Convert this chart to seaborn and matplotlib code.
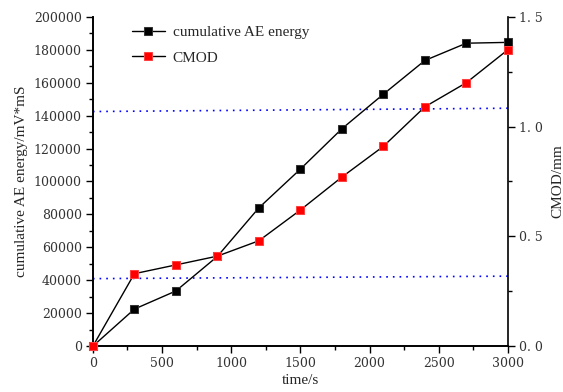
import matplotlib
matplotlib.use("Agg")
import matplotlib.pyplot as plt
import seaborn as sns
import pandas as pd
from matplotlib.ticker import MultipleLocator, FuncFormatter

# Test data: elapsed time, cumulative acoustic-emission energy and crack mouth opening displacement
time_s = [0, 300, 600, 900, 1200, 1500, 1800, 2100, 2400, 2700, 3000]
ae_energy = [0, 22500, 33500, 54500, 84000, 107500, 132000, 153000, 173500, 184000, 184500]
cmod_mm = [0, 0.33, 0.37, 0.41, 0.48, 0.62, 0.77, 0.91, 1.09, 1.20, 1.35]

# Dotted guide lines (start/end levels on the energy axis)
guide_x = [0, 3000]
guide_low = [41000, 42500]
guide_high = [142500, 144500]

sns.set_theme(style="white")
plt.rcParams["font.family"] = ["Liberation Serif", "DejaVu Serif"]

df = pd.DataFrame({"time": time_s, "energy": ae_energy, "cmod": cmod_mm})

fig = plt.figure(figsize=(5.63, 3.92), dpi=100)
ax = fig.add_axes([0.165, 0.117, 0.737, 0.84])
ax2 = ax.twinx()

sns.lineplot(data=df, x="time", y="energy", ax=ax, color="black", lw=1.0,
             marker="s", markersize=6, markerfacecolor="black", markeredgecolor="#333333",
             label="cumulative AE energy", legend=False, clip_on=False, zorder=3)
sns.lineplot(data=df, x="time", y="cmod", ax=ax2, color="black", lw=1.0,
             marker="s", markersize=6, markerfacecolor="#ff0000", markeredgecolor="#ff4040",
             label="CMOD", legend=False, clip_on=False, zorder=3)

ax.plot(guide_x, guide_low, ls=(0, (1, 3)), color="blue", lw=1.2)
ax.plot(guide_x, guide_high, ls=(0, (1, 3)), color="blue", lw=1.2)

ax.set_xlim(0, 3000)
ax.set_ylim(0, 200000)
ax2.set_ylim(0, 1.5)

ax.xaxis.set_major_locator(MultipleLocator(500))
ax.xaxis.set_minor_locator(MultipleLocator(250))
ax.yaxis.set_major_locator(MultipleLocator(20000))
ax.yaxis.set_minor_locator(MultipleLocator(10000))
ax2.yaxis.set_major_locator(MultipleLocator(0.5))
ax2.yaxis.set_minor_locator(MultipleLocator(0.25))
ax2.yaxis.set_major_formatter(FuncFormatter(lambda v, p: f"{v:.1f}".replace(".", ". ")))

for a in (ax, ax2):
    a.tick_params(which="major", direction="out", length=5, width=1.0, color="black",
                  labelsize=10, labelcolor="#333333", pad=3)
    a.tick_params(which="minor", direction="out", length=3, width=1.0, color="black")
    a.spines["top"].set_visible(False)
    for s in a.spines.values():
        s.set_linewidth(1.2)
        s.set_color("black")
ax.tick_params(axis="y", which="both", left=True, right=False)
ax.tick_params(axis="x", which="both", bottom=True)
ax2.tick_params(axis="y", which="both", right=True, left=False)
ax.spines["right"].set_visible(False)

for lbl in ax.get_xticklabels() + ax.get_yticklabels() + ax2.get_yticklabels():
    lbl.set_fontfamily("DejaVu Serif")
    lbl.set_fontsize(9)

ax.set_xlabel("time/s", fontsize=11, labelpad=3)
ax.set_ylabel("cumulative AE energy/mV*mS", fontsize=11, labelpad=4)
ax2.set_ylabel("CMOD/mm", fontsize=11, labelpad=6)

h1, l1 = ax.get_legend_handles_labels()
h2, l2 = ax2.get_legend_handles_labels()
ax2.legend(h1 + h2, l1 + l2, loc="upper left", bbox_to_anchor=(0.06, 1.015), frameon=False,
           fontsize=11, handlelength=2.2, labelspacing=0.75, handletextpad=0.5)

fig.savefig("out.png", dpi=100)
